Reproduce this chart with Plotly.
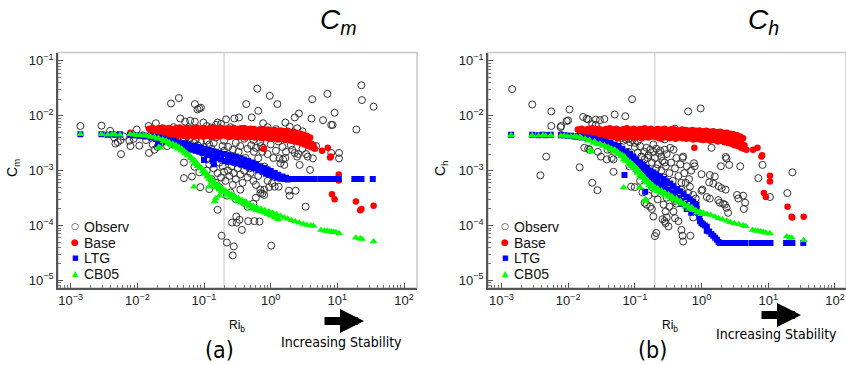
import plotly.graph_objects as go

# ---------------- DATA ----------------
RI_LINE = 0.2

# ---- panel (a): C_m ----
obs_m_ri = [0.0014,0.0029,0.0039,0.0047,0.0051,0.0056,0.0057,0.0076,0.0079,0.0098,0.0107,0.0148,0.019,0.015,0.018,0.020,
            0.0045,0.0062,0.0088,0.012,0.0135,0.017,0.022,0.025,0.028,
            0.032,0.042,0.073,0.080,0.085,0.090,0.044,0.052,0.062,0.073,0.098,0.127,0.151,0.18,0.214,0.285,0.335,0.43,0.63,0.65,0.52,0.77,0.97,1.26,1.66,1.93,2.3,2.66,2.5,4.1,4.2,7.1,6.1,9.1,8.1,8.5,22.9,23.4,35,19.3,
            0.035,0.06,0.11,0.25,0.4,0.9,1.2,3.0,0.16,
            0.51,0.72,0.77,0.56,0.48,0.65,0.81,1.36,1.53,1.66,1.4,1.6,2.1,2.3,2.5,2.6,2.72,3.6,4.3,3.9,8.1,10.6,10.6,1.88,1.93,2.37,1.32,3.35,
            1.0,1.2,1.3,1.5,1.7,2.0,2.4,3.0,3.4,4.8,0.9,1.1,
            0.305,0.34,0.31,0.46,0.57,0.68,0.37,1.02,0.184,0.22,0.28,0.27,0.263,0.16,
            0.05,0.05,0.066,0.072,0.085,0.088,
            0.030,0.035,0.040,0.045,0.050,0.055,0.060,0.065,0.070,0.075,0.080,0.090,0.100,0.110,0.120,0.130,0.140,
            0.15,0.20,0.25,0.30,0.35,0.40,0.45,0.55,0.60,0.70,0.75,
            0.10,0.11,0.12,0.13,0.14,0.15,0.16,0.17,0.18,0.19,0.20,0.20,0.21,0.22,0.23,0.24,0.25,0.26,0.27,0.28,0.29,0.30,0.32,0.33,0.35,0.36,0.38,0.40,0.42,0.45,0.48,0.50,0.55,0.60,0.65,0.70,0.75,0.80,0.85,0.90,0.95,1.05,1.15,
            0.15,0.17,0.13,0.12,0.25,0.22,0.30,0.35,0.40,0.45,0.55,0.60,0.70,0.80,0.19,0.23,0.27,0.14,0.11]
obs_m_c = [0.0065,0.0066,0.0053,0.0031,0.0033,0.0036,0.0020,0.0035,0.0028,0.0056,0.00285,0.0065,0.0073,0.0021,0.0024,0.0027,
           0.0040,0.0042,0.0038,0.0044,0.0036,0.0030,0.0031,0.0035,0.0028,
           0.0167,0.021,0.0163,0.013,0.0136,0.0140,0.0089,0.0078,0.0081,0.0078,0.0075,0.0061,0.0068,0.0071,0.0086,0.0089,0.0093,0.0163,0.031,0.0123,0.0093,0.0073,0.023,0.0163,0.0075,0.0063,0.0093,0.011,0.0059,0.0089,0.020,0.025,0.0083,0.0113,0.0068,0.0068,0.036,0.0193,0.0146,0.0056,
           0.0062,0.0058,0.0065,0.0062,0.0058,0.0062,0.0057,0.0052,0.0075,
           0.0029,0.0028,0.0026,0.0022,0.00136,0.00167,0.00118,0.00167,0.0016,0.0017,0.00136,0.00127,0.0024,0.0021,0.0018,0.0020,0.00127,0.0018,0.00167,0.00103,0.0021,0.0021,0.00167,0.00043,0.00035,0.00043,0.00051,0.00022,
           0.0030,0.0023,0.0034,0.0027,0.0022,0.0029,0.0036,0.0025,0.0020,0.0028,0.0020,0.0017,
           0.000146,0.000127,0.000113,0.00012,0.00012,0.000118,0.000083,0.000043,0.000065,0.000049,0.0000415,0.0000285,0.000113,0.000193,
           0.0014,0.00073,0.00078,0.00118,0.00093,0.0005,
           0.0033,0.0030,0.0036,0.0028,0.0034,0.0031,0.0038,0.0026,0.0032,0.0036,0.0029,0.0033,0.0027,0.0035,0.0030,0.0025,0.0032,
           0.0040,0.0035,0.0045,0.0032,0.0028,0.0038,0.0025,0.0036,0.0026,0.0033,0.0022,
           0.0020,0.0016,0.0013,0.0022,0.0011,0.0018,0.0009,0.0014,0.00075,0.0012,0.0023,0.00095,0.00065,0.0015,0.0010,0.0008,0.0019,0.0012,0.00055,0.0009,0.0014,0.0007,0.0011,0.0022,0.00085,0.0013,0.0006,0.0010,0.0017,0.00075,0.0011,0.0009,0.00065,0.00055,0.0008,0.00045,0.00038,0.00045,0.0010,0.00065,0.0005,0.00059,0.00051,
           0.0006,0.0005,0.0007,0.00046,0.0004,0.00035,0.0003,0.00045,0.00026,0.00022,0.00025,0.00032,0.00039,0.00036,0.0028,0.0027,0.0024,0.0019,0.0010]

base_m_ri = [0.0079,
             0.015,0.017,0.019,0.021,0.024,0.027,0.030,0.034,0.038,0.043,0.048,0.054,0.061,0.069,0.078,0.088,0.099,0.11,0.125,0.14,0.16,0.18,0.20,0.225,0.25,0.28,0.32,0.36,0.40,0.45,0.50,0.56,0.63,0.71,0.80,0.90,1.0,1.13,1.27,1.43,1.6,1.8,2.0,2.25,2.5,2.8,3.1,3.5,3.9,
             0.016,0.018,0.020,0.0225,0.025,0.0285,0.032,0.036,0.040,0.045,0.051,0.057,0.065,0.073,0.083,0.093,0.105,0.118,0.13,0.15,0.17,0.19,0.21,0.24,0.27,0.30,0.34,0.38,0.43,0.48,0.53,0.60,0.67,0.75,0.85,0.95,1.07,1.2,1.35,1.5,1.7,1.9,2.1,2.4,2.7,3.0,3.3,3.7,4.1,4.4,
             0.0155,0.0175,0.0195,0.022,0.0245,0.028,0.031,0.035,0.039,0.044,0.050,0.056,0.063,0.071,0.080,0.090,0.10,0.115,0.13,0.145,0.165,0.185,0.21,0.235,0.26,0.29,0.33,0.37,0.42,0.47,0.52,0.58,0.65,0.73,0.82,0.92,1.03,1.15,1.3,1.45,1.65,1.85,2.05,2.3,2.6,2.9,3.2,3.6,4.0,4.3,4.6,
             0.79,5.9,7.2,7.8,8.0,10.5,10.5,8.3,9.1,19,23,22,35]
base_m_c = [0.0049,
            0.0058,0.0060,0.0057,0.0059,0.0061,0.0058,0.0060,0.0057,0.0059,0.0061,0.0058,0.0060,0.0056,0.0059,0.0061,0.0058,0.0060,0.0057,0.0059,0.0061,0.0058,0.0060,0.0057,0.0059,0.0058,0.0060,0.0057,0.0059,0.0058,0.0056,0.0058,0.0057,0.0055,0.0057,0.0055,0.0056,0.0054,0.0055,0.0053,0.0054,0.0052,0.0053,0.0050,0.0051,0.0048,0.0047,0.0045,0.0043,0.0040,
            0.0050,0.0049,0.0051,0.0050,0.0048,0.0051,0.0049,0.0050,0.0052,0.0049,0.0051,0.0050,0.0048,0.0051,0.0050,0.0049,0.0051,0.0050,0.0048,0.0050,0.0051,0.0049,0.0050,0.0051,0.0049,0.0050,0.0048,0.0050,0.0049,0.0048,0.0050,0.0048,0.0049,0.0047,0.0048,0.0046,0.0047,0.0045,0.0046,0.0044,0.0045,0.0043,0.0042,0.0041,0.0039,0.0038,0.0036,0.0034,0.0031,0.0029,
            0.0043,0.0044,0.0042,0.0043,0.0045,0.0042,0.0044,0.0043,0.0042,0.0044,0.0043,0.0041,0.0044,0.0042,0.0043,0.0044,0.0042,0.0043,0.0041,0.0043,0.0042,0.0044,0.0043,0.0041,0.0042,0.0043,0.0041,0.0042,0.0040,0.0042,0.0041,0.0040,0.0041,0.0039,0.0040,0.0039,0.0038,0.0039,0.0037,0.0038,0.0036,0.0037,0.0035,0.0034,0.0033,0.0032,0.0030,0.0028,0.0027,0.0026,0.0025,
            0.0025,0.0023,0.0026,0.00174,0.0018,0.00085,0.00066,0.00037,0.0003,0.000275,0.0002,0.00019,0.00023]

ltg_m_ri = [0.0014,0.0029,0.0036,0.0042,0.0046,0.0055,0.0078,0.0088,0.0098,0.011,0.0125,0.0135,
            0.015,0.018,0.021,0.025,0.03,0.035,0.04,0.046,0.053,0.06,0.07,0.08,0.09,0.1,0.115,0.13,0.15,0.17,0.2,0.23,0.26,0.3,0.35,0.4,0.46,0.53,0.6,0.7,0.8,0.9,1.0,1.15,1.3,1.5,1.7,1.9,
            0.016,0.019,0.023,0.027,0.032,0.037,0.043,0.05,0.057,0.065,0.075,0.085,0.095,0.11,0.12,0.14,0.16,0.18,0.21,0.24,0.28,0.32,0.37,0.43,0.5,0.56,0.65,0.75,0.85,0.95,1.1,1.25,1.4,1.6,1.8,
            2.0,2.2,2.4,2.6,2.9,3.2,3.5,3.8,4.2,4.6,5.7,6.2,6.8,7.4,8.1,9.0,9.7,10.5,18,19.5,21,23,34,
            0.021,0.0205,0.1,0.135,0.14,0.15]
ltg_m_c = [0.0046,0.0046,0.0045,0.0046,0.0045,0.0046,0.0045,0.0044,0.0044,0.0043,0.0043,0.0042,
           0.0043,0.0041,0.0040,0.0038,0.0036,0.0035,0.0033,0.0032,0.0031,0.0029,0.0028,0.0027,0.0026,0.0025,0.0024,0.0023,0.0022,0.0021,0.0020,0.0019,0.00185,0.0018,0.0017,0.0016,0.0015,0.0014,0.0013,0.0012,0.00112,0.00105,0.00098,0.0009,0.00084,0.00078,0.00074,0.0007,
           0.0040,0.0038,0.0036,0.0034,0.0032,0.0030,0.0029,0.0027,0.0025,0.0024,0.0023,0.0022,0.0021,0.0020,0.0019,0.0018,0.0017,0.0016,0.0015,0.00145,0.0014,0.00135,0.0013,0.0012,0.00115,0.0011,0.00102,0.00095,0.00088,0.00083,0.00078,0.00074,0.00071,0.0007,0.00069,
           0.0007,0.0007,0.0007,0.0007,0.0007,0.0007,0.0007,0.0007,0.0007,0.0007,0.0007,0.0007,0.0007,0.0007,0.0007,0.0007,0.0007,0.0007,0.0007,0.0007,0.0007,0.0007,0.0007,
           0.0029,0.0031,0.00156,0.0015,0.0013,0.0017]

cb_m_ri = [0.0014,0.0029,0.0036,0.0042,0.0046,0.0055,0.0078,0.0088,0.0098,0.011,0.0125,0.0135,
           0.015,0.018,0.021,0.024,0.027,0.03,0.034,0.038,0.042,0.046,0.05,0.055,0.06,0.065,0.07,0.075,0.08,0.086,0.092,0.1,0.107,0.115,0.125,0.135,0.145,0.16,0.175,0.19,0.21,0.23,0.26,0.29,0.33,0.37,0.42,0.48,0.55,0.63,0.72,0.82,0.94,1.07,1.22,1.4,1.6,1.8,2.05,2.35,2.7,3.1,3.5,4.0,4.4,
           0.016,0.02,0.025,0.029,0.033,0.037,0.041,0.046,0.052,0.057,0.063,0.068,0.074,0.08,0.087,0.095,0.103,0.112,0.12,0.13,0.14,0.155,0.17,0.185,0.2,0.22,0.25,0.28,0.32,0.36,0.41,0.47,0.54,0.62,0.7,0.8,0.9,1.0,1.15,1.3,
           0.022,0.021,0.071,0.12,0.144,0.15,0.17,
           5.7,6.4,7.0,7.6,8.2,8.8,9.5,10.6,19,22,23.5,35]
cb_m_c = [0.0046,0.0046,0.0045,0.0046,0.0045,0.0045,0.0046,0.0045,0.0044,0.0044,0.0043,0.0043,
          0.0043,0.0041,0.0039,0.0037,0.0035,0.0033,0.0031,0.0029,0.0027,0.0025,0.0023,0.0021,0.0019,0.0017,0.0016,0.00145,0.0013,0.0012,0.0011,0.001,0.0009,0.00082,0.00073,0.00066,0.0006,0.00055,0.0005,0.00046,0.00043,0.0004,0.00037,0.00034,0.00031,0.00029,0.00027,0.00025,0.00023,0.00021,0.0002,0.00019,0.00018,0.00017,0.00016,0.00015,0.00014,0.000132,0.000125,0.000118,0.000112,0.000106,0.000102,0.0001,0.000098,
          0.0041,0.0038,0.0034,0.0031,0.0029,0.0027,0.0025,0.0023,0.0021,0.0019,0.0017,0.0015,0.00135,0.0012,0.0011,0.00097,0.00087,0.00077,0.0007,0.00062,0.00055,0.0005,0.00045,0.00042,0.0004,0.00036,0.00033,0.00031,0.00028,0.00026,0.00024,0.00022,0.0002,0.00019,0.00018,0.00017,0.00016,0.00015,0.00014,0.00013,
          0.0026,0.0027,0.00051,0.00051,0.000275,0.00031,0.00035,
          0.000083,0.00008,0.000079,0.000078,0.000077,0.000076,0.000075,0.000072,0.00006,0.000058,0.000057,0.000051]

# ---- panel (b): C_h ----
obs_h_ri = [0.00145,0.0029,0.0056,0.0105,0.0095,0.010,0.0056,0.0077,0.0079,0.0047,0.00385,0.0149,
            0.0168,0.019,0.020,0.0175,0.020,0.021,0.023,0.0275,0.026,0.030,0.035,0.023,0.026,
            0.031,0.038,0.045,0.048,0.028,0.039,0.044,0.048,0.050,0.072,0.091,0.059,
            0.063,0.068,0.074,0.080,0.085,0.092,0.100,0.110,
            0.079,0.083,0.088,0.100,0.125,0.14,0.157,
            0.15,0.17,0.19,0.21,0.24,0.28,0.25,0.28,0.21,
            0.14,0.15,0.18,0.17,0.19,0.21,0.20,0.26,0.28,0.29,
            0.63,0.97,0.4,0.34,0.38,0.25,0.28,0.52,0.53,0.77,0.79,1.0,1.41,1.95,2.3,2.37,2.6,3.8,1.33,1.58,
            1.3,1.5,1.8,2.0,2.3,1.03,1.0,0.67,0.58,0.63,0.75,0.82,1.88,2.24,2.37,2.5,3.4,4.2,4.5,4.3,7.1,8.2,10.6,19.3,23,
            0.27,0.29,0.3,0.32,0.5,0.52,0.53,0.68,0.40,0.45,0.75,
            1.2,1.33,1.78,2.1,3.55,
            0.10,0.11,0.12,0.13,0.14,0.15,0.16,0.17,0.18,0.19,0.2,0.21,0.22,0.23,0.24,0.25,0.26,0.27,0.29,0.3,0.31,0.33,0.35,0.37,0.4,0.42,0.45,0.48,0.5,0.55,0.6,0.65,0.7,
            0.3,0.35,0.4,0.45,0.5,0.55,0.6,0.25,0.22,0.33,0.38,0.42,0.16,0.18,0.2,0.13,0.12,0.23]
obs_h_c = [0.0305,0.016,0.012,0.013,0.008,0.0082,0.0065,0.0062,0.0065,0.0018,0.00082,0.00115,
           0.0095,0.0088,0.0086,0.0026,0.0025,0.0024,0.0006,0.00044,0.0085,0.0083,0.0087,0.0070,0.0068,
           0.0018,0.0016,0.0017,0.0016,0.0022,0.0024,0.0024,0.00095,0.0105,0.0098,0.020,0.0042,
           0.0039,0.0035,0.0037,0.0038,0.0033,0.0036,0.0032,0.0034,
           0.0022,0.0012,0.00051,0.0005,0.0018,0.0016,0.0017,
           0.0026,0.0024,0.0022,0.0025,0.0023,0.0024,0.0018,0.0014,0.0011,
           0.00026,0.00024,0.0002,0.00022,0.000146,0.000073,0.000064,0.00013,0.00012,0.00011,
           0.012,0.0136,0.0058,0.0026,0.0024,0.0039,0.0037,0.0017,0.0018,0.00136,0.0012,0.00086,0.0026,0.0012,0.00178,0.00166,0.00127,0.0012,0.00083,0.00078,
           0.00061,0.00058,0.00052,0.00048,0.00045,0.00045,0.00043,0.00051,0.0006,0.00039,0.00036,0.00031,0.00026,0.00024,0.00021,0.00017,0.00036,0.00035,0.00026,0.0002,0.00073,0.00127,0.00033,0.00039,0.00093,
           0.00024,0.00018,0.00014,0.000096,0.000083,0.000065,0.000051,0.000065,0.000136,0.00012,0.00014,
           0.00033,0.00031,0.00029,0.00025,0.00031,
           0.0027,0.0021,0.0028,0.0013,0.0022,0.0011,0.0019,0.0009,0.0014,0.0030,0.0017,0.0008,0.0013,0.0021,0.0006,0.0010,0.0015,0.00075,0.0012,0.0020,0.0005,0.0009,0.0014,0.00065,0.0011,0.0017,0.0008,0.0013,0.0006,0.0009,0.0012,0.0007,0.0010,
           0.00032,0.00042,0.00028,0.00035,0.00045,0.0003,0.00022,0.00045,0.0003,0.00022,0.00018,0.00025,0.00035,0.0005,0.00038,0.0004,0.00065,0.00055]

base_h_ri = [0.0079,
             0.014,0.016,0.018,0.020,0.023,0.026,0.029,0.033,0.037,0.042,0.047,0.053,0.060,0.068,0.076,0.086,0.097,0.11,0.12,0.14,0.155,0.175,0.20,0.22,0.25,0.28,0.32,0.36,0.40,0.45,0.51,0.58,0.65,0.73,0.82,0.93,1.05,1.18,1.33,1.5,1.7,1.9,2.1,2.4,2.7,3.0,3.4,3.8,4.2,
             0.015,0.017,0.019,0.0215,0.0245,0.0275,0.031,0.035,0.039,0.044,0.050,0.056,0.064,0.072,0.081,0.091,0.103,0.115,0.13,0.147,0.165,0.185,0.21,0.235,0.265,0.30,0.34,0.38,0.42,0.47,0.54,0.61,0.69,0.77,0.87,0.98,1.1,1.25,1.4,1.6,1.8,2.0,2.25,2.55,2.85,3.2,3.6,4.0,4.4,
             0.0145,0.0165,0.0185,0.021,0.024,0.027,0.030,0.034,0.038,0.043,0.048,0.055,0.062,0.070,0.079,0.089,0.10,0.112,0.126,0.142,0.16,0.18,0.205,0.23,0.26,0.29,0.33,0.37,0.41,0.46,0.52,0.59,0.66,0.75,0.84,0.95,1.07,1.2,1.35,1.55,1.75,1.95,2.2,2.5,2.8,3.1,3.5,3.9,4.3,4.7,
             0.78,5.9,6.9,7.9,8.1,10.6,10.6,8.6,9.2,19.5,22.4,22.9,34]
base_h_c = [0.0046,
            0.0056,0.0058,0.0055,0.0057,0.0059,0.0056,0.0058,0.0055,0.0057,0.0059,0.0056,0.0058,0.0055,0.0057,0.0059,0.0056,0.0058,0.0055,0.0057,0.0059,0.0056,0.0058,0.0055,0.0057,0.0056,0.0058,0.0055,0.0057,0.0056,0.0054,0.0056,0.0055,0.0053,0.0055,0.0053,0.0054,0.0052,0.0053,0.0051,0.0052,0.0050,0.0051,0.0049,0.0049,0.0047,0.0046,0.0044,0.0042,0.0039,
            0.0048,0.0047,0.0049,0.0048,0.0046,0.0049,0.0047,0.0048,0.0050,0.0047,0.0049,0.0048,0.0046,0.0049,0.0048,0.0047,0.0049,0.0048,0.0046,0.0048,0.0049,0.0047,0.0048,0.0049,0.0047,0.0048,0.0046,0.0048,0.0047,0.0046,0.0048,0.0046,0.0047,0.0045,0.0046,0.0044,0.0045,0.0043,0.0044,0.0042,0.0043,0.0041,0.0040,0.0039,0.0037,0.0035,0.0033,0.0031,0.0029,
            0.0041,0.0042,0.0040,0.0041,0.0043,0.0040,0.0042,0.0041,0.0040,0.0042,0.0041,0.0039,0.0042,0.0040,0.0041,0.0042,0.0040,0.0041,0.0039,0.0041,0.0040,0.0042,0.0041,0.0039,0.0040,0.0041,0.0039,0.0040,0.0038,0.0040,0.0039,0.0038,0.0039,0.0037,0.0038,0.0037,0.0036,0.0037,0.0035,0.0036,0.0034,0.0035,0.0033,0.0032,0.0031,0.0029,0.0028,0.0026,0.0025,0.0024,
            0.0026,0.0024,0.0026,0.0018,0.0019,0.00081,0.00063,0.00039,0.00033,0.00022,0.000145,0.00014,0.000145]

ltg_h_ri = [0.0014,0.0029,0.0036,0.0042,0.0046,0.0055,0.0078,0.0088,0.0098,0.011,0.0125,0.0135,
            0.015,0.02,0.025,0.03,0.036,0.043,0.05,0.057,0.065,0.075,0.085,0.095,0.105,0.12,0.135,0.15,0.17,0.19,0.21,0.24,0.27,0.3,0.34,0.38,0.43,0.48,0.54,0.6,0.67,0.75,0.84,
            0.016,0.022,0.028,0.034,0.04,0.047,0.054,0.062,0.07,0.08,0.09,0.1,0.11,0.125,0.14,0.16,0.18,0.2,0.22,0.25,0.28,0.32,0.36,0.4,0.45,0.5,0.56,0.62,0.7,0.78,
            0.09,0.11,0.13,0.15,0.18,0.21,0.25,0.3,0.35,0.42,0.5,0.6,0.7,
            0.82,0.85,0.9,0.93,0.95,1.0,1.05,1.12,1.2,1.2,1.3,1.4,1.5,1.6,1.7,1.8,
            1.9,2.1,2.3,2.5,2.8,3.1,3.4,3.7,4.1,4.5,5.6,6.2,6.8,7.5,8.3,9.2,10.2,10.8,18.5,20,21.5,23,33.5,
            0.07,0.143]
ltg_h_c = [0.0045,0.0045,0.0044,0.0045,0.0044,0.0045,0.0044,0.0044,0.0043,0.0043,0.0042,0.0042,
           0.0042,0.0040,0.0038,0.0036,0.0034,0.0032,0.0030,0.0028,0.0025,0.0022,0.0020,0.0018,0.0016,0.0014,0.00125,0.00113,0.001,0.00092,0.00085,0.00078,0.0007,0.00064,0.00058,0.00052,0.00046,0.00042,0.00037,0.00033,0.0003,0.00027,0.00024,
           0.0040,0.0038,0.0035,0.0033,0.0031,0.0029,0.0027,0.0024,0.0021,0.0018,0.0016,0.0014,0.00125,0.0011,0.00098,0.00088,0.00078,0.0007,0.00064,0.00057,0.00051,0.00045,0.0004,0.00036,0.00032,0.00028,0.00025,0.00022,0.0002,0.00018,
           0.0013,0.001,0.00085,0.00072,0.00062,0.00055,0.00048,0.00041,0.00036,0.0003,0.00025,0.0002,0.00017,
           0.00023,0.0002,0.00017,0.00014,0.00012,0.00011,0.000105,0.0001,0.000095,0.00008,0.000078,0.00007,0.000065,0.00006,0.000055,0.00005,
           0.000048,0.000048,0.000048,0.000048,0.000048,0.000048,0.000048,0.000048,0.000048,0.000048,0.000048,0.000048,0.000048,0.000048,0.000048,0.000048,0.000048,0.000048,0.000048,0.000048,0.000048,0.000048,0.000048,
           0.00083,0.00041]

cb_h_ri = [0.0014,0.0029,0.0036,0.0042,0.0046,0.0055,0.0078,0.0088,0.0098,0.011,0.0125,0.0135,
           0.015,0.018,0.021,0.025,0.03,0.035,0.04,0.045,0.05,0.055,0.06,0.065,0.07,0.075,0.08,0.086,0.092,0.099,0.106,0.113,0.12,0.13,0.14,0.155,0.17,0.185,0.2,0.22,0.25,0.28,0.32,0.36,0.42,0.48,0.55,0.63,0.72,0.82,0.94,1.07,1.22,1.38,1.6,1.8,2.05,2.4,2.7,3.1,3.6,4.2,4.6,
           0.016,0.02,0.024,0.028,0.033,0.038,0.043,0.049,0.055,0.062,0.068,0.074,0.081,0.088,0.095,0.103,0.11,0.12,0.13,0.14,0.15,0.165,0.18,0.2,0.22,0.25,0.28,0.32,0.37,0.43,0.5,0.57,0.65,0.75,0.85,1.0,
           0.0216,0.022,0.068,0.12,0.143,0.145,
           5.8,6.4,7.0,7.7,8.4,9.2,10.6,19,21,22.5,34]
cb_h_c = [0.0044,0.0044,0.0043,0.0044,0.0043,0.0044,0.0043,0.0043,0.0042,0.0042,0.0042,0.0041,
          0.0041,0.0038,0.0036,0.0034,0.0031,0.0029,0.0027,0.0025,0.0024,0.0022,0.0020,0.0019,0.0018,0.0016,0.0015,0.0014,0.0013,0.0012,0.0011,0.001,0.00092,0.00083,0.00075,0.00066,0.00059,0.00054,0.0005,0.00047,0.00043,0.0004,0.00037,0.00034,0.00031,0.00028,0.00025,0.00023,0.00021,0.00019,0.00018,0.00017,0.00016,0.000155,0.000145,0.000135,0.00013,0.000122,0.000115,0.00011,0.000105,0.0001,0.000097,
          0.0039,0.0035,0.0032,0.003,0.0028,0.0026,0.0024,0.0022,0.002,0.0018,0.0016,0.0015,0.0013,0.0012,0.0011,0.001,0.0009,0.00082,0.00074,0.00066,0.0006,0.00054,0.0005,0.00045,0.00042,0.00039,0.00036,0.00033,0.0003,0.00027,0.00025,0.00022,0.0002,0.00019,0.00017,0.00016,
          0.0024,0.0022,0.00049,0.00049,0.00028,0.0003,
          0.000083,0.00008,0.000079,0.000078,0.000076,0.000074,0.000072,0.000063,0.00006,0.00006,0.000054]

SERIES = ["Observ", "Base", "LTG", "CB05"]
SERIES_GLYPH = ["\u25cb", "\u25cf", "\u25a0", "\u25b2"]
SERIES_COLOR = ["#333333", "#ff0000", "#0000ff", "#00ff00"]
X_TICKS = [0.001, 0.01, 0.1, 1, 10, 100]
X_TICKTEXT = ["10<sup>\u22123</sup>", "10<sup>\u22122</sup>", "10<sup>\u22121</sup>", "10<sup>0</sup>", "10<sup>1</sup>", "10<sup>2</sup>"]
Y_TICKS = [1e-5, 1e-4, 1e-3, 1e-2, 1e-1]
Y_TICKTEXT = ["10<sup>\u22125</sup>", "10<sup>\u22124</sup>", "10<sup>\u22123</sup>", "10<sup>\u22122</sup>", "10<sup>\u22121</sup>"]

# ---------------- FIGURE ----------------
W, H = 846, 365
FONT = "Liberation Sans Narrow, Liberation Sans, Arial, sans-serif"
TXT = "DejaVu Sans Condensed, DejaVu Sans, sans-serif"

fig = go.Figure()

panels = [
    dict(xa="x", ya="y", obs=(obs_m_ri, obs_m_c), base=(base_m_ri, base_m_c),
         ltg=(ltg_m_ri, ltg_m_c), cb=(cb_m_ri, cb_m_c)),
    dict(xa="x2", ya="y2", obs=(obs_h_ri, obs_h_c), base=(base_h_ri, base_h_c),
         ltg=(ltg_h_ri, ltg_h_c), cb=(cb_h_ri, cb_h_c)),
]

for p in panels:
    fig.add_trace(go.Scatter(x=[RI_LINE, RI_LINE], y=[1e-7, 1.0], mode="lines",
                             line=dict(color="#c8c8c8", width=1), showlegend=False,
                             hoverinfo="skip", xaxis=p["xa"], yaxis=p["ya"]))
    fig.add_trace(go.Scatter(x=p["obs"][0], y=p["obs"][1], mode="markers", name=SERIES[0],
                             marker=dict(symbol="circle-open", size=7, color="#333333", line=dict(width=1)),
                             xaxis=p["xa"], yaxis=p["ya"], showlegend=False))
    fig.add_trace(go.Scatter(x=p["base"][0], y=p["base"][1], mode="markers", name=SERIES[1],
                             marker=dict(symbol="circle", size=6.5, color="#ff0000"),
                             xaxis=p["xa"], yaxis=p["ya"], showlegend=False))
    fig.add_trace(go.Scatter(x=p["ltg"][0], y=p["ltg"][1], mode="markers", name=SERIES[2],
                             marker=dict(symbol="square", size=6, color="#0000ff"),
                             xaxis=p["xa"], yaxis=p["ya"], showlegend=False))
    fig.add_trace(go.Scatter(x=p["cb"][0], y=p["cb"][1], mode="markers", name=SERIES[3],
                             marker=dict(symbol="triangle-up", size=7, color="#00ff00"),
                             xaxis=p["xa"], yaxis=p["ya"], showlegend=False))

ydom = [(H - 288) / H, (H - 52.5) / H]
xdom1 = [58 / W, 417 / W]
xdom2 = [488 / W, 1.0]

def axis(dom, rng, anchor, vals, texts):
    return dict(type="log", domain=dom, range=rng, anchor=anchor,
                tickmode="array", tickvals=vals, ticktext=texts,
                ticks="inside", ticklen=5, tickcolor="#555555", tickwidth=1,
                minor=dict(ticks="inside", ticklen=3, tickcolor="#777777", dtick="D1", showgrid=False),
                showline=True, linecolor="#555555", linewidth=1.5, mirror=False,
                showgrid=False, zeroline=False,
                tickfont=dict(family=FONT, size=13, color="#222222"))

fig.update_layout(
    width=W, height=H, margin=dict(l=0, r=0, t=0, b=0, autoexpand=False),
    paper_bgcolor="white", plot_bgcolor="white", showlegend=False,
    xaxis=axis(xdom1, [-3.19, 2.195], "y", X_TICKS, X_TICKTEXT),
    yaxis=axis(ydom, [-5.139, -0.848], "x", Y_TICKS, Y_TICKTEXT),
    xaxis2=axis(xdom2, [-3.2, 2.165], "y2", X_TICKS, X_TICKTEXT),
    yaxis2=axis(ydom, [-5.139, -0.848], "x2", Y_TICKS, Y_TICKTEXT),
)

for xr, yr in [("x domain", "y domain"), ("x2 domain", "y2 domain")]:
    fig.add_shape(type="rect", xref=xr, yref=yr, x0=0, x1=1, y0=0, y1=1,
                  line=dict(color="#c8c8c8", width=1.5), layer="below")

ann = []
def A(text, x, y, size, family=TXT, angle=0, color="#000000", xanchor="center"):
    ann.append(dict(text=text, x=x / W, y=1 - y / H, xref="paper", yref="paper", showarrow=False,
                    font=dict(family=family, size=size, color=color), textangle=angle,
                    xanchor=xanchor, yanchor="middle"))

A("<i>C<sub>m</sub></i>", 338, 22, 28, family=FONT)
A("<i>C<sub>h</sub></i>", 763, 22, 28, family=FONT)
A("C<sub>m</sub>", 13, 168, 14, family=FONT, angle=-90)
A("C<sub>h</sub>", 441, 168, 14, family=FONT, angle=-90)
A("Ri<sub>b</sub>", 237, 326, 12, family=FONT)
A("Ri<sub>b</sub>", 670, 326, 12, family=FONT)
A("(a)", 219, 350, 23)
A("(b)", 652, 350, 23)
A("Increasing Stability", 341, 342, 14)
A("Increasing Stability", 776, 334, 14)

# legends (one per panel), drawn as text rows
LEG_ROWS = [226.5, 242, 257.5, 273]
GLYPH_SIZE = [9, 9, 7, 8]
for lx in (64, 494):
    for k in range(4):
        A(SERIES_GLYPH[k], lx + 11, LEG_ROWS[k], GLYPH_SIZE[k], family="DejaVu Sans", color=SERIES_COLOR[k])
        A(SERIES[k], lx + 18, LEG_ROWS[k] + 0.5, 14, family=FONT, color="#111111", xanchor="left")

for (tx, ty, hx) in [(323, 321, 364), (760, 315, 801)]:
    ann.append(dict(x=hx / W, y=1 - ty / H, xref="paper", yref="paper", ax=tx - hx, ay=0,
                    text="", showarrow=True,
                    arrowhead=2, arrowsize=0.6, arrowwidth=8, arrowcolor="#000000"))

fig.update_layout(annotations=ann)
fig.write_html("out.html", config={"displayModeBar": False, "staticPlot": False},
               post_script="document.body.style.margin='0px';document.body.style.padding='0px';")
